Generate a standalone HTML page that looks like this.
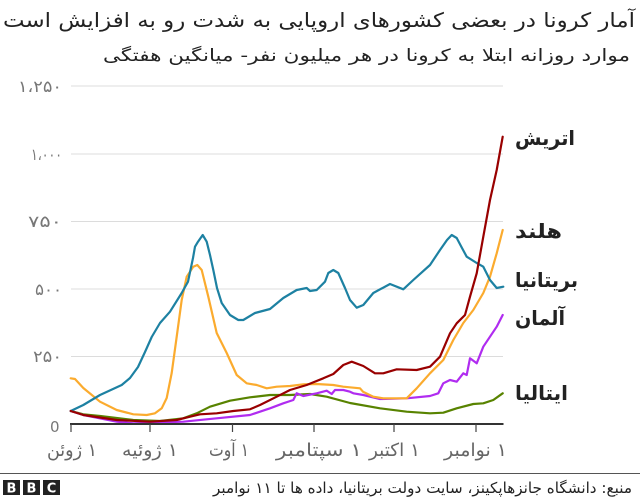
<!DOCTYPE html>
<html>
<head>
<meta charset="utf-8">
<style>
  html,body{margin:0;padding:0;background:#fff;}
  body{width:640px;height:499px;overflow:hidden;}
  svg{display:block;}
  text{font-family:"DejaVu Sans","Liberation Sans",sans-serif;}
</style>
</head>
<body>
<svg width="640" height="499" viewBox="0 0 640 499" xmlns="http://www.w3.org/2000/svg">
  <!-- Title -->
  <text x="3" y="27" font-size="20" fill="#222" textLength="632" lengthAdjust="spacingAndGlyphs">آمار کرونا در بعضی کشورهای اروپایی به شدت رو به افزایش است</text>
  <text x="103" y="61" font-size="17" fill="#222" textLength="527" lengthAdjust="spacingAndGlyphs">موارد روزانه ابتلا به کرونا در هر میلیون نفر- میانگین هفتگی</text>

  <!-- gridlines -->
  <g stroke="#dcdcdc" stroke-width="1">
    <line x1="71" y1="86" x2="503" y2="86"/>
    <line x1="71" y1="154" x2="503" y2="154"/>
    <line x1="71" y1="221.5" x2="503" y2="221.5"/>
    <line x1="71" y1="289" x2="503" y2="289"/>
    <line x1="71" y1="356.5" x2="503" y2="356.5"/>
  </g>

  <!-- y labels -->
  <g font-size="16" fill="#777">
    <text x="18" y="92" textLength="44" lengthAdjust="spacingAndGlyphs">۱،۲۵۰</text>
    <text x="31" y="160" textLength="31" lengthAdjust="spacingAndGlyphs">۱،۰۰۰</text>
    <text x="28" y="227" textLength="34" lengthAdjust="spacingAndGlyphs">۷۵۰</text>
    <text x="35" y="295" textLength="27" lengthAdjust="spacingAndGlyphs">۵۰۰</text>
    <text x="33" y="362" textLength="29" lengthAdjust="spacingAndGlyphs">۲۵۰</text>
    <text x="50" y="432" font-family="Liberation Sans" font-size="15">0</text>
  </g>

  <!-- series -->
  <g fill="none" stroke-width="2.2" stroke-linejoin="round" stroke-linecap="round">
    <polyline stroke="#588300" points="70.7,411 83.3,414.3 100,416 133.3,420 160,421 183.3,418.3 196.7,413.3 210,406.7 230,400.7 250,397.3 270,395 290,395 310,394 326.7,396.7 350,403 380,408.3 406.7,411.7 430,413.3 443.3,412.7 456.7,408.3 473.3,404 483.3,403.3 493.3,400 502.7,393.3"/>
    <polyline stroke="#b02cf0" points="70.7,411 83.3,415 116.7,421.7 133.3,423.3 183.3,421.7 216.7,418.3 250,415 270,408.3 283.3,403.3 293.3,400 296.7,393.3 303.3,396 316.7,393.3 326.7,390.7 331.7,394 335,390 343.3,390 350,391.7 353.3,393.3 363.3,395 380,399 406.7,398.3 430,396 438.3,393.3 443.3,383.3 450,380 456.7,381.7 463.3,373.3 466.7,375 470,358.3 476.7,363.3 483.3,346.7 490,336.7 496.7,326.7 502.7,315"/>
    <polyline stroke="#fbab2e" points="70.7,378.3 75,379 83.3,388 100,401.7 116.7,410 133.3,414.3 146.7,415 155,413.3 161.7,408.3 166.7,398 171.7,373 176.7,336.7 181.7,300 186.7,276.7 193.3,266.7 197.3,265 201.7,270 208.3,296.7 216.7,333 226.7,353 236.7,375 246.7,383.3 256.7,385 266.7,388.3 276.7,386.7 290,386 303.3,384.3 316.7,384 333.3,385 343.3,386.7 360,388.3 363,391.7 373.3,396.7 383.3,398.3 406.7,398.3 416.7,388.3 430,373.3 443.3,360 453.3,340 463.3,323 473.3,310 483.3,293 490,276.7 496.7,253.3 502.7,230"/>
    <polyline stroke="#1d81a2" points="70.7,411 83.3,405 100,395 121.7,385 130,378 138,367 145,352 151.7,337 160,323 170,311.7 181.7,293 188,281.7 193,258 195,246.7 198,241.7 202.7,235 206.7,241.7 210,255 213.3,270 217,288 221.7,303 230,315 238.3,320 243.3,320 255,313 270,309 283.3,298 296.7,290 306.7,288 310,291 316.7,290 325,281.7 328.3,273 333.3,270 338.3,273 345,288 350,300 356.7,307.7 363.3,305 373.3,293 390,284 403.3,289.3 413.3,280 430,265 440,250 447,240 451.7,235 456.7,238 462,248 466.7,256.7 476.7,263 483.3,266.7 490,280 496.7,288 503.3,286.7"/>
    <polyline stroke="#990000" points="70.7,411 83.3,415 116.7,420 150,421.7 176.7,420 190,416.7 200,414.3 216.7,413.3 233.3,411 250,409.3 260,405 276.7,396.7 290,390 306.7,385 323.3,378.3 333.3,374 343.3,365 351.7,361.7 363.3,366 375,373.3 383.3,373.3 396.7,369.3 416.7,370 430,366.7 440,356.7 450,333.3 456.7,323.3 465,315 470,296.7 476.7,273.3 483.3,236.7 490,200 496.7,170 502.7,136.7"/>
  </g>

  <!-- x axis -->
  <line x1="70" y1="424" x2="503.5" y2="424" stroke="#333" stroke-width="2"/>
  <g stroke="#444" stroke-width="1.2">
    <line x1="71" y1="424" x2="71" y2="432"/>
    <line x1="150" y1="424" x2="150" y2="432"/>
    <line x1="232.5" y1="424" x2="232.5" y2="432"/>
    <line x1="314" y1="424" x2="314" y2="432"/>
    <line x1="394" y1="424" x2="394" y2="432"/>
    <line x1="476" y1="424" x2="476" y2="432"/>
  </g>

  <!-- x labels -->
  <g font-size="18" fill="#666">
    <text x="47" y="456" textLength="50" lengthAdjust="spacingAndGlyphs">&#x200F;۱ ژوئن</text>
    <text x="122" y="456" textLength="56" lengthAdjust="spacingAndGlyphs">&#x200F;۱ ژوئیه</text>
    <text x="209" y="456" textLength="40" lengthAdjust="spacingAndGlyphs">&#x200F;۱ آوت</text>
    <text x="276" y="456" textLength="86" lengthAdjust="spacingAndGlyphs">&#x200F;۱ سپتامبر</text>
    <text x="369" y="456" textLength="51" lengthAdjust="spacingAndGlyphs">&#x200F;۱ اکتبر</text>
    <text x="444" y="456" textLength="63" lengthAdjust="spacingAndGlyphs">&#x200F;۱ نوامبر</text>
  </g>

  <!-- series labels -->
  <g font-size="20" font-weight="bold" fill="#222">
    <text x="515" y="145" textLength="60" lengthAdjust="spacingAndGlyphs">اتریش</text>
    <text x="515" y="238" textLength="47" lengthAdjust="spacingAndGlyphs">هلند</text>
    <text x="515" y="287" textLength="63" lengthAdjust="spacingAndGlyphs">بریتانیا</text>
    <text x="515" y="325" textLength="50" lengthAdjust="spacingAndGlyphs">آلمان</text>
    <text x="515" y="400" textLength="53" lengthAdjust="spacingAndGlyphs">ایتالیا</text>
  </g>

  <!-- footer -->
  <line x1="0" y1="473.5" x2="640" y2="473.5" stroke="#555" stroke-width="1"/>
  <g>
    <rect x="3" y="480" width="17" height="15" fill="#222"/>
    <rect x="23" y="480" width="17" height="15" fill="#222"/>
    <rect x="43" y="480" width="17" height="15" fill="#222"/>
    <g font-family="Liberation Sans" font-weight="bold" font-size="13" fill="#fff" text-anchor="middle">
      <text x="11.5" y="492.5">B</text>
      <text x="31.5" y="492.5">B</text>
      <text x="51.5" y="492.5">C</text>
    </g>
  </g>
  <text x="213" y="493" font-size="15" fill="#222" textLength="419" lengthAdjust="spacingAndGlyphs">منبع: دانشگاه جانزهاپکینز، سایت دولت بریتانیا، داده ها تا ۱۱ نوامبر</text>
</svg>
</body>
</html>
